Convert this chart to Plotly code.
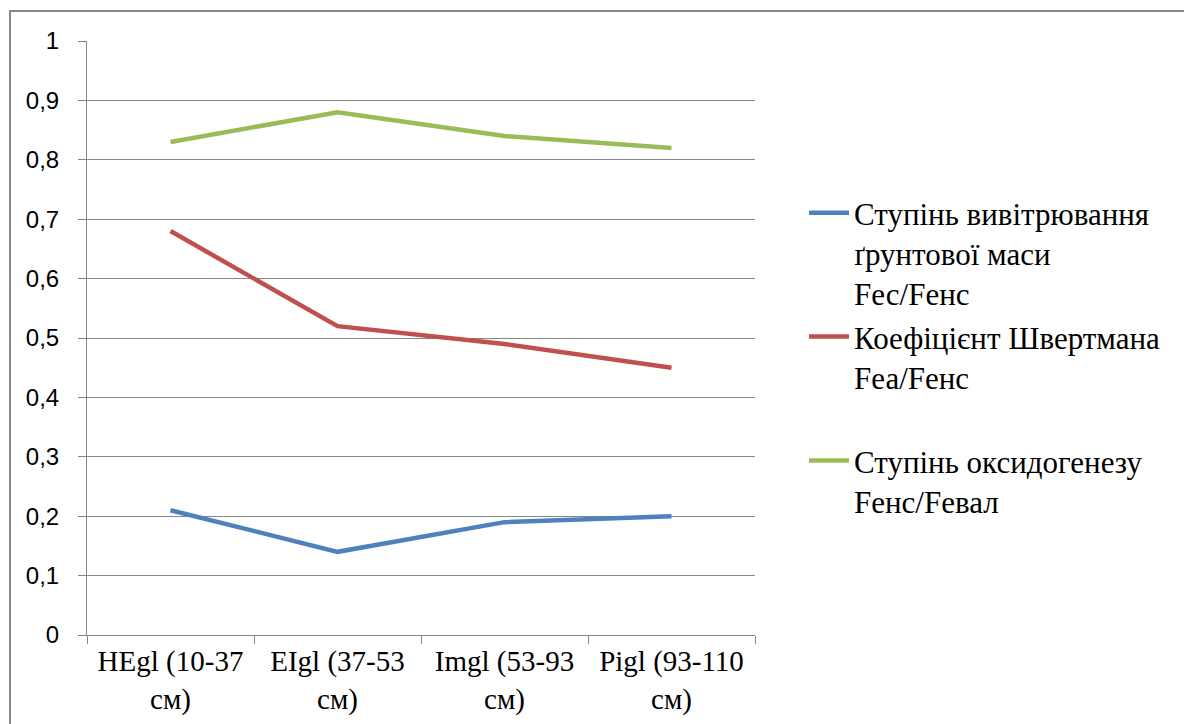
import plotly.graph_objects as go

categories = ["HEgl (10-37<br>см)", "EIgl (37-53<br>см)", "Imgl (53-93<br>см)", "Pigl (93-110<br>см)"]
series_names = [
    "Ступінь вивітрювання<br>ґрунтової маси<br>Fес/Fенс",
    "Коефіцієнт Швертмана<br>Fеа/Fенс<br> ",
    "Ступінь оксидогенезу<br>Fенс/Fевал",
]
weathering = [0.21, 0.14, 0.19, 0.20]
schwertmann = [0.68, 0.52, 0.49, 0.45]
oxidogenesis = [0.83, 0.88, 0.84, 0.82]
colors = ["#4F81BD", "#C0504D", "#9BBB59"]
y_tickvals = [0, 0.1, 0.2, 0.3, 0.4, 0.5, 0.6, 0.7, 0.8, 0.9, 1.0]
y_ticktext = ["0", "0,1", "0,2", "0,3", "0,4", "0,5", "0,6", "0,7", "0,8", "0,9", "1"]

fig = go.Figure()
for name, vals, col in zip(series_names, [weathering, schwertmann, oxidogenesis], colors):
    fig.add_trace(go.Scatter(x=categories, y=vals, mode="lines", name=name,
                             line=dict(color=col, width=4.5)))

OFF = 8  # body margin of the page
W, H = 1192 - OFF, 724 - OFF
left, right, top, bottom = 87, 755, 41, 635  # plot area in page pixels
ml, mr, mt, mb = left - OFF, W - (right - OFF), top - OFF, H - (bottom - OFF)
pw, ph = W - ml - mr, H - mt - mb

def px_x(x):
    return (x - OFF - ml) / pw

def px_y(y):
    return (H - mb - (y - OFF)) / ph

fig.update_layout(
    width=W, height=H,
    margin=dict(l=ml, r=mr, t=mt, b=mb, pad=0, autoexpand=False),
    paper_bgcolor="white", plot_bgcolor="white",
    showlegend=True,
    legend=dict(x=px_x(804), y=px_y(186), xanchor="left", yanchor="top",
                font=dict(family="Liberation Serif", size=31, color="black"),
                valign="top", tracegroupgap=0, itemwidth=40,
                bgcolor="rgba(0,0,0,0)"),
    xaxis=dict(type="category", range=[-0.5, 3.5], showgrid=False,
               showline=True, linecolor="#868686", linewidth=1,
               ticks="outside", tickson="boundaries", ticklen=8, tickcolor="#868686",
               tickfont=dict(family="Liberation Serif", size=29, color="black"),
               automargin=False, fixedrange=True),
    yaxis=dict(range=[0, 1], tickvals=y_tickvals, ticktext=y_ticktext,
               showgrid=True, gridcolor="#868686", gridwidth=1,
               showline=True, linecolor="#868686", linewidth=1,
               ticks="outside", ticklen=8, tickcolor="#868686",
               ticklabelstandoff=14,
               tickfont=dict(family="Liberation Sans", size=24, color="black"),
               automargin=False, zeroline=False, fixedrange=True),
    shapes=[dict(type="rect", xref="paper", yref="paper",
                 x0=px_x(10), x1=px_x(1300), y0=px_y(800), y1=px_y(11),
                 line=dict(color="#888888", width=2), fillcolor="rgba(0,0,0,0)",
                 layer="below")],
)

fig.write_html("out.html")
